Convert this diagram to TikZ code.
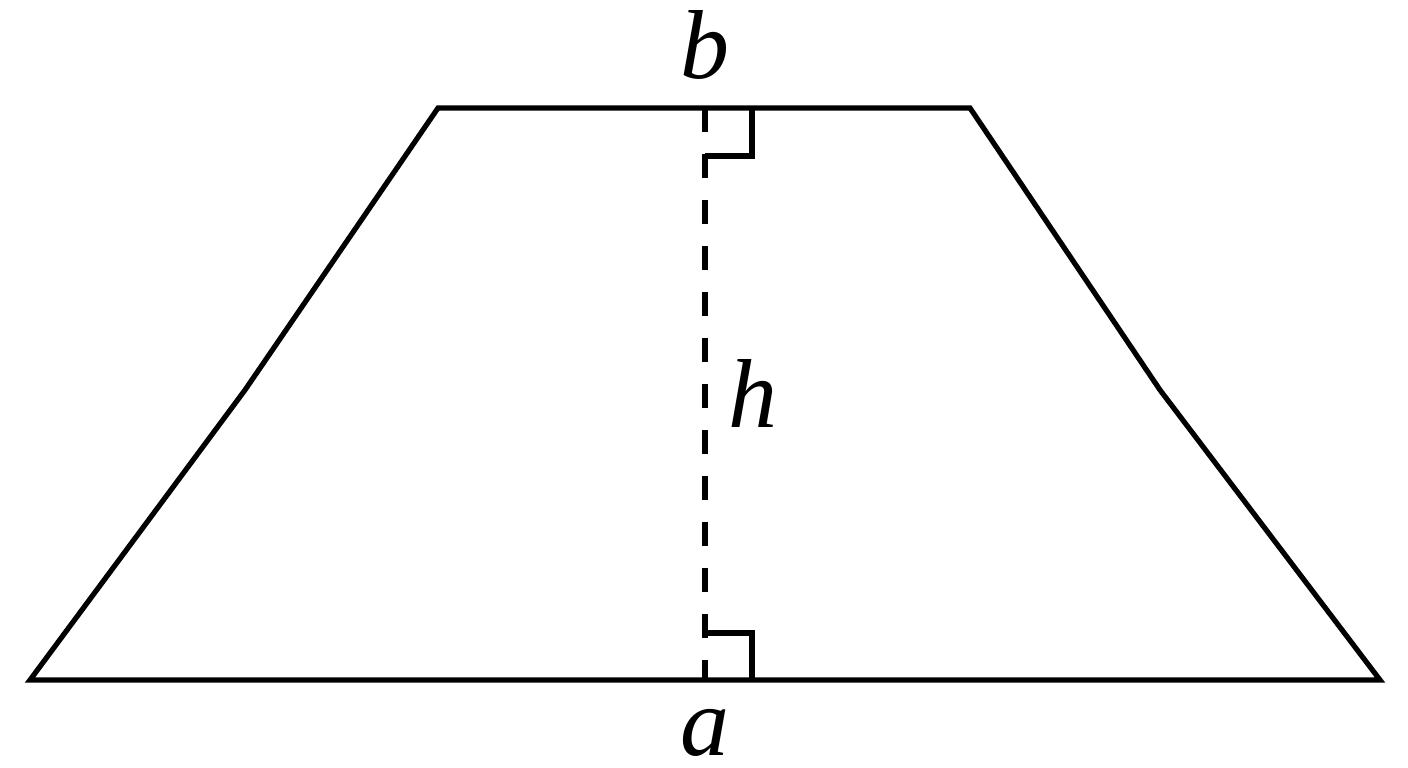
\documentclass[tikz,border=0pt]{standalone}
\usepackage{fontspec}
\setmainfont{Liberation Serif}
\begin{document}
\begin{tikzpicture}[x=1pt,y=-1pt,
  edge/.style={line width=5.2pt,line join=miter},
  hgt/.style={line width=5.2pt,dash pattern=on 24pt off 22pt},
  ramark/.style={line width=5.2pt},
  lbl/.style={font=\fontsize{98}{98}\selectfont\itshape,anchor=base,inner sep=0pt,text depth=0pt}]
\useasboundingbox (0,0) rectangle (1408,768);
\coordinate (TL) at (438,108);
\coordinate (TR) at (970,108);
\coordinate (BR) at (1380,680);
\coordinate (BL) at (30,680);
\coordinate (KL) at (245,390);
\coordinate (KR) at (1160,390);
\coordinate (HT) at (705,108);
\coordinate (HB) at (705,680);
\draw[edge] (TL) -- (TR) -- (KR) -- (BR) -- (BL) -- (KL) -- cycle;
\draw[hgt] (HT) -- (HB);
\coordinate (M1) at (705,156);
\coordinate (M2) at (752,156);
\coordinate (M3) at (752,108);
\coordinate (N1) at (705,633);
\coordinate (N2) at (752,633);
\coordinate (N3) at (752,680);
\draw[ramark] (M1) -- (M2) -- (M3);
\draw[ramark] (N1) -- (N2) -- (N3);
\node[lbl] (b) at (705,78) {b};
\node[lbl] (h) at (753,427) {h};
\node[lbl] (a) at (705,755) {a};
\end{tikzpicture}
\end{document}
